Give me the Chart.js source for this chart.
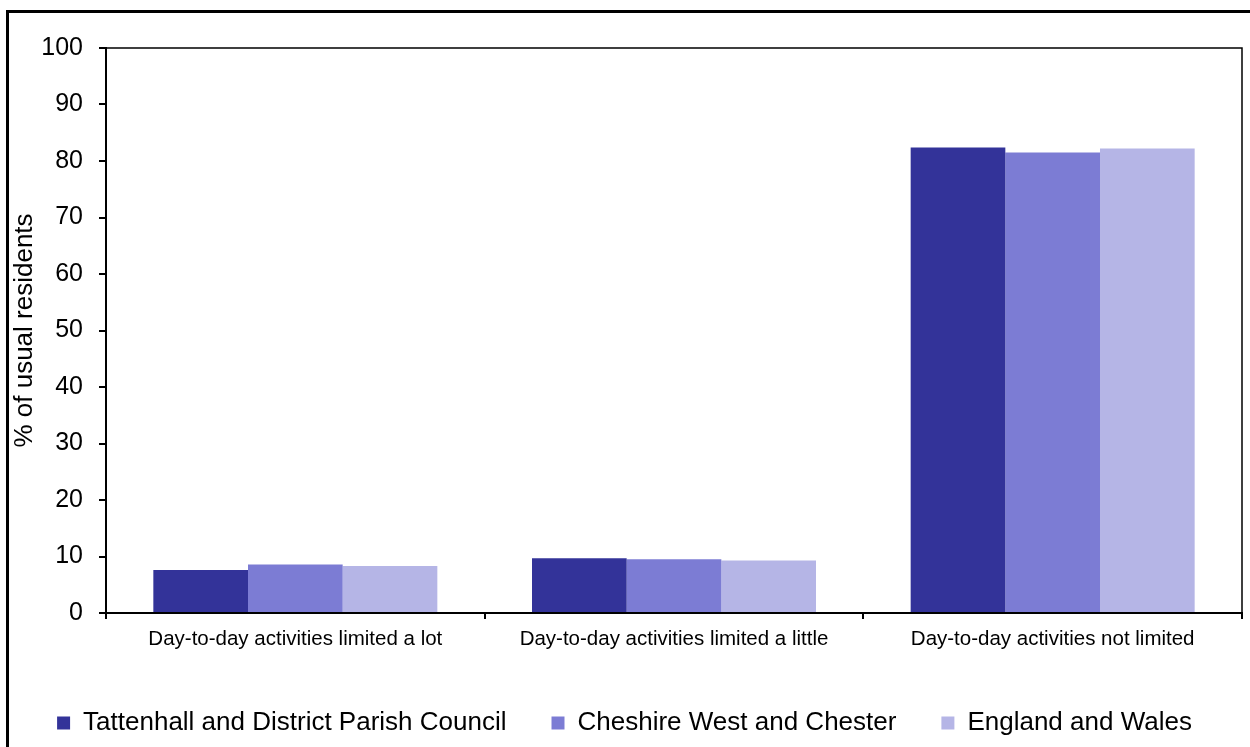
<!DOCTYPE html>
<html>
<head>
<meta charset="utf-8">
<script src="https://cdn.jsdelivr.net/npm/chart.js@4.4.0/dist/chart.umd.min.js"></script>
<style>
  html, body { margin: 0; padding: 0; background: #fff; }
  #wrap { width: 1250px; height: 747px; position: relative; }
</style>
</head>
<body>
<div id="wrap"><canvas id="Grafica"></canvas></div>
<script>
const categorias = ['Day-to-day activities limited a lot', 'Day-to-day activities limited a little', 'Day-to-day activities not limited'];
const series = ['Tattenhall and District Parish Council', 'Cheshire West and Chester', 'England and Wales'];
const tattenhall = [7.6, 9.7, 82.4];
const cheshire = [8.6, 9.5, 81.5];
const englandWales = [8.3, 9.3, 82.2];
const yTicks = [0, 10, 20, 30, 40, 50, 60, 70, 80, 90, 100];
const colores = ['#333399', '#7c7cd4', '#b5b5e6'];

// outer frame and plot box
const marco = {
    id: 'marco',
    afterDraw(chart) {
        const c = chart.ctx, a = chart.chartArea;
        c.save();
        c.strokeStyle = '#000';
        c.lineWidth = 3;
        c.strokeRect(7.5, 11.5, 1260, 760);
        c.lineWidth = 1.5;
        c.beginPath();
        c.moveTo(a.left, a.top);
        c.lineTo(a.right, a.top);
        c.lineTo(a.right, a.bottom);
        c.stroke();
        c.restore();
    }
};

const ctx = document.getElementById('Grafica').getContext('2d');
const grafica = new Chart(ctx, {
    type: 'bar',
    data: {
        labels: categorias,
        datasets: [
            { label: series[0], data: tattenhall, backgroundColor: colores[0] },
            { label: series[1], data: cheshire, backgroundColor: colores[1] },
            { label: series[2], data: englandWales, backgroundColor: colores[2] }
        ]
    },
    options: {
        responsive: true,
        maintainAspectRatio: false,
        animation: false,
        layout: { padding: { left: 7, right: 8, top: 48, bottom: 1 } },
        datasets: { bar: { categoryPercentage: 0.75, barPercentage: 1.0 } },
        plugins: {
            tooltip: { enabled: false },
            legend: {
                position: 'bottom',
                labels: {
                    color: '#000',
                    font: { family: 'Liberation Sans', size: 26 },
                    boxWidth: 13, boxHeight: 13,
                    padding: 45
                }
            }
        },
        scales: {
            x: {
                grid: { display: true, drawOnChartArea: false, drawTicks: true, tickLength: 6, color: '#000', lineWidth: 2 },
                border: { display: true, color: '#000', width: 2 },
                ticks: { color: '#000', font: { family: 'Liberation Sans', size: 20.5 }, padding: 8, maxRotation: 0 },
                afterFit(s) { s.height = 52; }
            },
            y: {
                min: 0, max: 100,
                afterBuildTicks(s) { s.ticks = yTicks.map(v => ({ value: v })); },
                grid: { display: true, drawOnChartArea: false, drawTicks: true, tickLength: 7, color: '#000', lineWidth: 2 },
                border: { display: true, color: '#000', width: 2 },
                ticks: { color: '#000', font: { family: 'Liberation Sans', size: 25 }, padding: 16 },
                title: { display: true, text: '% of usual residents', color: '#000', font: { family: 'Liberation Sans', size: 26 }, padding: 2 },
                afterFit(s) { s.width = 99; }
            }
        }
    },
    plugins: [marco]
});
</script>
</body>
</html>
